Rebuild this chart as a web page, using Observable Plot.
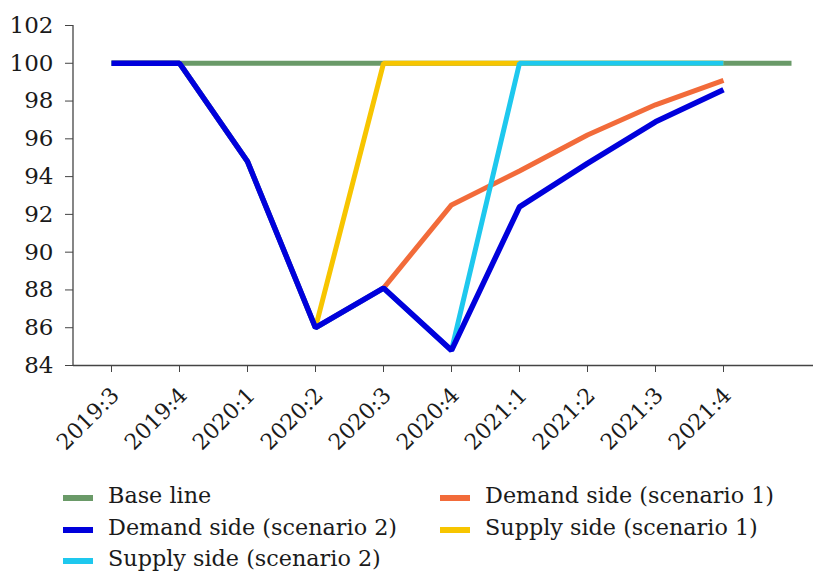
<!DOCTYPE html>
<html>
<head>
<meta charset="utf-8">
<script src="https://cdn.jsdelivr.net/npm/d3@7"></script>
<script src="https://cdn.jsdelivr.net/npm/@observablehq/plot@0.6"></script>
<style>
  html, body { margin: 0; padding: 0; background: #fff; overflow: hidden; }
  #chart { width: 813px; height: 460px; }
  .legend { position: relative; width: 813px; height: 113px; font-family: "DejaVu Serif", serif; font-size: 22.3px; color: #1a1a1a; }
  .txt { position: absolute; white-space: nowrap; height: 26px; line-height: 26px; }
  .sw { position: absolute; width: 30px; height: 6px; }
</style>
</head>
<body>
<div id="chart"></div>
<script>
const quarters = ["2019:3","2019:4","2020:1","2020:2","2020:3","2020:4","2021:1","2021:2","2021:3","2021:4","2022:1"];
const tickLabels = ["2019:3","2019:4","2020:1","2020:2","2020:3","2020:4","2021:1","2021:2","2021:3","2021:4"];
const yTicks = [84,86,88,90,92,94,96,98,100,102];

const seriesNames = ["Base line","Demand side (scenario 1)","Demand side (scenario 2)","Supply side (scenario 1)","Supply side (scenario 2)"];
const seriesColors = ["#6a9a68","#f26b3a","#0000dc","#f7c500","#1ec8ee"];

const baseLine = [100,100,100,100,100,100,100,100,100,100,100];
const demand1  = [100,100,94.8,86.0,88.1,92.5,94.3,96.2,97.8,99.1];
const demand2  = [100,100,94.8,86.0,88.1,84.8,92.4,94.7,96.9,98.6];
const supply1  = [100,100,94.8,86.0,100,100,100,100,100,100];
const supply2  = [100,100,94.8,86.0,88.1,84.8,100,100,100,100];

const toRows = (vals) => vals.map((v, i) => ({q: quarters[i], v}));
const drawOrder = [
  [baseLine, 0, 5],
  [demand1, 1, 5],
  [supply1, 3, 5],
  [supply2, 4, 5],
  [demand2, 2, 5.5]
];

const tickFont = '"DejaVu Serif", serif';
const axisColor = "#444";

// y-axis spine drawn from the y scale
const ySpine = (index, scales, values, dimensions) => {
  const g = d3.create("svg:line")
    .attr("x1", dimensions.marginLeft).attr("x2", dimensions.marginLeft)
    .attr("y1", scales.y(yTicks[0])).attr("y2", scales.y(yTicks[yTicks.length - 1]))
    .attr("stroke", axisColor).attr("stroke-width", 1.3);
  return g.node();
};

const chart = Plot.plot({
  width: 813,
  height: 460,
  marginTop: 25,
  marginBottom: 95,
  marginLeft: 73,
  marginRight: 0,
  style: { fontFamily: tickFont, fontSize: "22px", color: "#1a1a1a", background: "#fff", overflow: "visible" },
  x: { type: "point", domain: quarters, range: [107.7, 794], padding: 0 },
  y: { domain: [84, 102], range: [365, 25] },
  marks: [
    ySpine,
    Plot.ruleY([84], { stroke: axisColor, strokeWidth: 1.3 }),
    Plot.axisY({ ticks: yTicks, tickSize: 8, tickPadding: 12, stroke: axisColor, fontSize: 23, label: null }),
    Plot.axisX({ ticks: tickLabels, tickSize: 7, text: null, stroke: axisColor, label: null }),
    Plot.axisX({ ticks: tickLabels, tickSize: 0, tickRotate: -45, tickPadding: 4, dx: 4, dy: 22, fontSize: 22, label: null }),
    ...drawOrder.map(([vals, ci, w]) => Plot.line(toRows(vals), {
      x: "q", y: "v", stroke: seriesColors[ci], strokeWidth: w,
      strokeLinejoin: "miter", strokeLinecap: "butt"
    }))
  ]
});
document.getElementById("chart").appendChild(chart);

// legend (baselines relative to the legend box)
const legend = document.createElement("div");
legend.className = "legend";
const positions = [[63, 43], [440, 43], [63, 75], [440, 75], [63, 106]];
seriesNames.forEach((name, k) => {
  const [lx, base] = positions[k];
  const sw = document.createElement("div");
  sw.className = "sw";
  sw.style.left = lx + "px";
  sw.style.top = (base - 8) + "px";
  sw.style.background = seriesColors[k];
  const tx = document.createElement("div");
  tx.className = "txt";
  tx.style.left = (lx + 45) + "px";
  tx.style.top = (base - 21) + "px";
  tx.textContent = name;
  legend.appendChild(sw);
  legend.appendChild(tx);
});
document.body.appendChild(legend);
</script>
</body>
</html>
